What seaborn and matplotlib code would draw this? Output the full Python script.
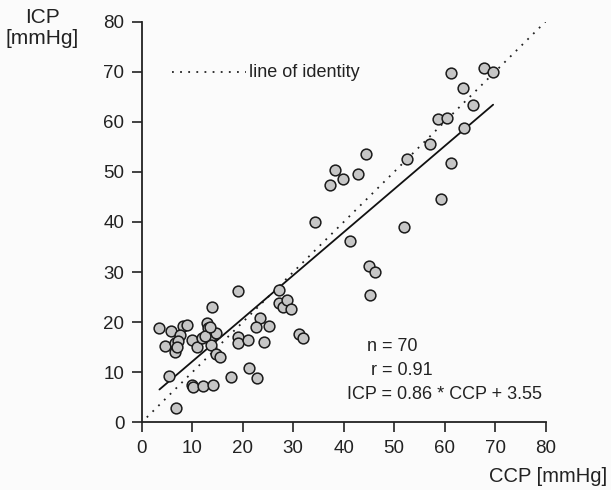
import numpy as np
import pandas as pd
import seaborn as sns
import matplotlib.pyplot as plt

# CCP / ICP readings (mmHg)
ccp = [3.5, 5.7, 8.2, 8.9, 7.6, 4.6, 6.6, 6.6, 7.2, 10.0, 10.9, 11.9, 13.0, 13.2,
       13.9, 14.7, 13.7, 14.7, 15.5, 13.9, 19.1, 19.1, 21.1, 23.4, 22.6, 25.2, 24.2,
       5.3, 9.9, 10.2, 12.2, 14.2, 17.6, 21.3, 22.9, 19.1, 6.7, 12.5, 13.5, 6.9,
       27.2, 27.2, 27.9, 28.7, 29.5, 31.2, 32.0,
       34.3, 61.2, 67.8, 69.5, 63.7, 65.7, 58.6, 60.5, 63.9, 57.0, 52.5, 61.2, 44.4,
       38.3, 39.9, 42.8, 37.3, 59.2, 51.9, 41.2, 45.0, 46.3, 45.2]
icp = [18.8, 18.3, 19.2, 19.5, 17.4, 15.2, 15.9, 14.1, 16.3, 16.4, 15.0, 16.9, 19.9, 18.8,
       17.4, 17.9, 15.4, 13.6, 13.1, 23.1, 17.1, 15.9, 16.4, 20.8, 19.1, 19.3, 16.1,
       9.2, 7.4, 7.1, 7.2, 7.4, 9.0, 10.8, 8.8, 26.2, 2.8, 17.2, 19.0, 15.0,
       26.4, 23.8, 23.0, 24.5, 22.6, 17.6, 16.8,
       40.0, 69.8, 70.8, 69.9, 66.7, 63.3, 60.5, 60.8, 58.7, 55.5, 52.6, 51.8, 53.5,
       50.4, 48.6, 49.6, 47.4, 44.6, 39.0, 36.2, 31.2, 30.1, 25.5]

slope = 0.86
intercept = 3.55
fit_range = [3.5, 69.6]
identity_range = [1, 80]
ticks = [0, 10, 20, 30, 40, 50, 60, 70, 80]

df = pd.DataFrame({"CCP": ccp, "ICP": icp})

sns.set_style("ticks")
plt.rcParams['font.family'] = ['Liberation Sans', 'DejaVu Sans']

fig = plt.figure(figsize=(6.11, 4.9), dpi=100)
fig.patch.set_facecolor("#fbfbfb")
ax = fig.add_axes([0.232, 0.138, 0.661, 0.818])
ax.set_facecolor("#fbfbfb")

# line of identity (dotted) and regression line
ax.plot(identity_range, identity_range, linestyle=(0, (1, 3.5)), color="#222222", lw=1.3)
fx = np.array(fit_range)
ax.plot(fx, slope * fx + intercept, color="#111111", lw=1.3)

sns.scatterplot(data=df, x="CCP", y="ICP", ax=ax, s=60, color="#c6c6c6",
                edgecolor="#1a1a1a", linewidth=1.1, zorder=3, clip_on=False)

ax.set_xlim(0, 80)
ax.set_ylim(0, 80)
ax.set_xticks(ticks)
ax.set_yticks(ticks)
ax.tick_params(labelsize=13.5, length=7.5, width=1.2, pad=5,
               color="#222222", labelcolor="#222222")
for side in ["top", "right"]:
    ax.spines[side].set_visible(False)
for side in ["left", "bottom"]:
    ax.spines[side].set_linewidth(1.3)
    ax.spines[side].set_color("#222222")
ax.set_xlabel("")
ax.set_ylabel("")

# axis labels placed like the original
fig.text(0.069, 0.984, "ICP\n[mmHg]", ha="center", va="top", fontsize=15,
         color="#222222", linespacing=1.15)
fig.text(0.994, 0.028, "CCP [mmHg]", ha="right", va="center", fontsize=14.5, color="#222222")

# legend-like label for identity line
ax.plot([5.9, 20.6], [69.9, 69.9], linestyle=(0, (1, 3.5)), color="#222222", lw=1.3)
ax.text(21.2, 69.9, "line of identity", fontsize=13, va="center", color="#222222")

# statistics
ax.text(44.7, 15.1, "n = 70", fontsize=13, va="center", color="#222222")
ax.text(45.4, 10.4, "r = 0.91", fontsize=13, va="center", color="#222222")
ax.text(40.6, 5.6, "ICP = 0.86 * CCP + 3.55", fontsize=13, va="center", color="#222222")

plt.savefig("out.png", dpi=100, facecolor=fig.get_facecolor())
